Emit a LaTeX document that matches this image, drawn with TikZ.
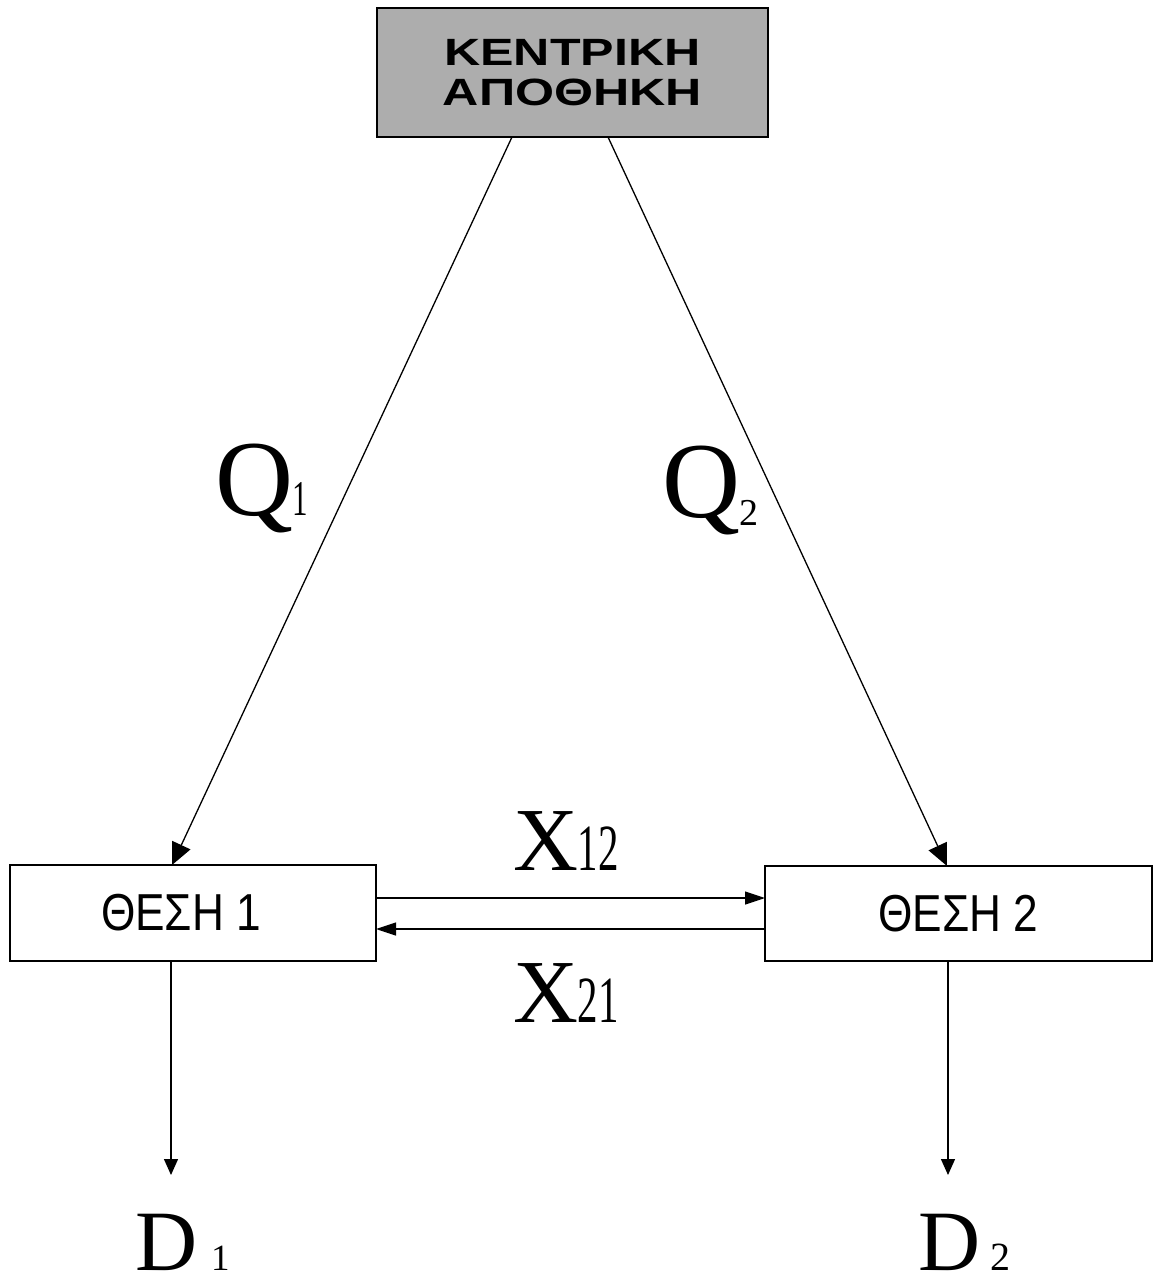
\documentclass[tikz,border=0pt]{standalone}
\usepackage{fontspec}
\setmainfont{Liberation Serif}
\newfontfamily\widegreek[FakeStretch=1.32]{Liberation Sans Bold}
\newfontfamily\placefont[FakeStretch=0.85]{Liberation Sans}
\newfontfamily\narrowdigits[FakeStretch=0.62]{Liberation Serif}
\usetikzlibrary{arrows.meta,calc}
\begin{document}
\begin{tikzpicture}[x=0.5pt,y=-0.5pt,
  depot/.style={draw=black,line width=1pt,fill=black!32,minimum width=195.5pt,minimum height=64.5pt,inner sep=0pt,outer sep=0pt,align=center,font=\widegreek\fontsize{19}{20}\selectfont},
  place/.style={draw=black,line width=0.9pt,fill=white,inner sep=0pt,outer sep=0pt,font=\placefont\fontsize{26}{26}\selectfont},
  lbl/.style={inner sep=0pt,outer sep=0pt,anchor=base west},
  flow/.style={draw=black,line width=0.65pt},
  bigtip/.style={-{Triangle[length=11pt,width=10pt]}},
  midtip/.style={-{Triangle[length=10pt,width=6.5pt]}},
  smalltip/.style={-{Triangle[length=8pt,width=7pt]}}]
\useasboundingbox (0,0) rectangle (1154,1282);
% boxes
\node[depot] (top) at (572.5,72.5) {ΚΕΝΤΡΙΚΗ\\ΑΠΟΘΗΚΗ};
\node[place,minimum width=183pt,minimum height=48pt] (s1) at (193,913)
  {ΘΕΣΗ 1\hspace*{12pt}};
\node[place,minimum width=193.5pt,minimum height=47.5pt] (s2) at (958.5,913.5)
  {ΘΕΣΗ 2};
% free ends
\coordinate (d1tip) at ($(s1.south west)+(161,214)$);
\coordinate (d2tip) at ($(s2.south west)+(183,214)$);
% connectors
\draw[flow,bigtip] ($(top.south west)+(135,0)$) -- ($(s1.north west)+(162,0)$);
\draw[flow,bigtip] ($(top.south west)+(231,0)$) -- ($(s2.north west)+(182,0)$);
\draw[flow,midtip] ($(s1.north east)+(0,33)$) -- ($(s2.north west)+(0,32)$);
\draw[flow,midtip] ($(s2.north west)+(0,63)$) -- ($(s1.north east)+(0,64)$);
\draw[flow,smalltip] ($(s1.south west)+(161,0)$) -- (d1tip);
\draw[flow,smalltip] ($(s2.south west)+(183,0)$) -- (d2tip);
% labels
\node[lbl] (q1) at (215,515) {\fontsize{54}{54}\selectfont Q{\narrowdigits\fontsize{25}{25}\selectfont 1}};
\node[lbl] (q2) at (662,517) {\fontsize{54}{54}\selectfont Q\raisebox{-4pt}{\fontsize{19}{19}\selectfont 2}};
\node[lbl] (x12) at (513,870) {\fontsize{45}{45}\selectfont X{\narrowdigits\fontsize{33}{33}\selectfont 12}};
\node[lbl] (x21) at (513,1022) {\fontsize{45}{45}\selectfont X{\narrowdigits\fontsize{33}{33}\selectfont 21}};
\node[lbl,text depth=0pt] (d1) at (135,1270) {\fontsize{43}{43}\selectfont D\hspace{7pt}{\fontsize{18.5}{18.5}\selectfont 1}};
\node[lbl,text depth=0pt] (d2) at (918,1270) {\fontsize{43}{43}\selectfont D\hspace{5pt}{\fontsize{20}{20}\selectfont 2}};
\end{tikzpicture}
\end{document}
